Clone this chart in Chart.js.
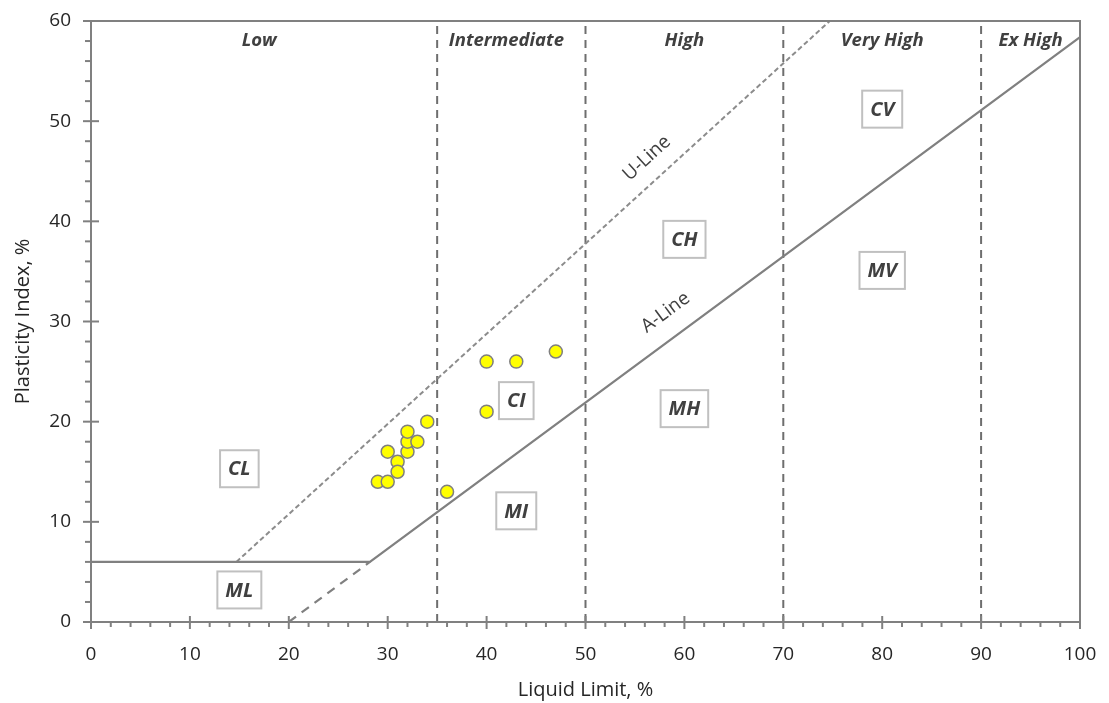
<!DOCTYPE html>
<html>
<head>
<meta charset="utf-8">
<script src="https://cdn.jsdelivr.net/npm/chart.js@4"></script>
<style>
  html, body { margin: 0; padding: 0; background: #fff; }
  #wrap { width: 1109px; height: 703px; }
</style>
</head>
<body>
<div id="wrap"><canvas id="plasticity-chart" width="1109" height="703"></canvas></div>
<script>
// sample results (liquid limit / plasticity index)
const sampleLL = [29, 30, 30, 31, 31, 32, 32, 32, 33, 34, 36, 40, 40, 43, 47];
const samplePI = [14, 14, 17, 16, 15, 17, 18, 19, 18, 20, 13, 26, 21, 26, 27];

// chart boundary lines
const aLineLL = [0, 28.2, 100];
const aLinePI = [6, 6, 58.4];
const aExtLL = [20, 28.2];
const aExtPI = [0, 6];
const uLineLL = [14.7, 74.7];
const uLinePI = [6, 60];

// plasticity zones
const zoneBounds = [35, 50, 70, 90];
const zoneNames = ['Low', 'Intermediate', 'High', 'Very High', 'Ex High'];
const zoneCenters = [17, 42, 60, 80, 95];

// soil classes
const soilCodes = ['CL', 'ML', 'MI', 'CI', 'MH', 'CH', 'MV', 'CV'];
const soilLL = [15, 15, 43, 43, 60, 60, 80, 80];
const soilPI = [15.3, 3.2, 11.1, 22.1, 21.3, 38.2, 35.1, 51.2];

const xTicks = [0, 10, 20, 30, 40, 50, 60, 70, 80, 90, 100];
const yTicks = [0, 10, 20, 30, 40, 50, 60];

const FONT = '"Open Sans", "DejaVu Sans", sans-serif';

function pts(xs, ys) {
    return xs.map((x, i) => ({ x: x, y: ys[i] }));
}

const overlay = {
    id: 'overlay',
    afterDraw(chart) {
        const ctx = chart.ctx;
        const xs = chart.scales.x;
        const ys = chart.scales.y;
        const area = chart.chartArea;
        ctx.save();

        // frame
        ctx.strokeStyle = '#808080';
        ctx.lineWidth = 2;
        ctx.strokeRect(area.left, area.top, area.right - area.left, area.bottom - area.top);

        // ticks on x axis
        for (let v = 0; v <= 100; v += 2) {
            const px = xs.getPixelForValue(v);
            ctx.beginPath();
            if (v % 10 === 0) {
                ctx.moveTo(px, area.bottom - 6);
                ctx.lineTo(px, area.bottom + 7);
            } else {
                ctx.moveTo(px, area.bottom);
                ctx.lineTo(px, area.bottom + 5);
            }
            ctx.stroke();
        }
        // ticks on y axis
        for (let v = 0; v <= 60; v += 2) {
            const py = ys.getPixelForValue(v);
            ctx.beginPath();
            if (v % 10 === 0) {
                ctx.moveTo(area.left - 8, py);
                ctx.lineTo(area.left + 8, py);
            } else {
                ctx.moveTo(area.left - 6, py);
                ctx.lineTo(area.left, py);
            }
            ctx.stroke();
        }

        // zone names
        ctx.fillStyle = '#404040';
        ctx.font = 'italic bold 18.5px ' + FONT;
        ctx.textAlign = 'center';
        ctx.textBaseline = 'middle';
        zoneNames.forEach((name, i) => {
            ctx.fillText(name, xs.getPixelForValue(zoneCenters[i]), ys.getPixelForValue(58));
        });

        // soil class boxes
        ctx.font = 'italic bold 20px ' + FONT;
        soilCodes.forEach((code, i) => {
            const cx = xs.getPixelForValue(soilLL[i]);
            const cy = ys.getPixelForValue(soilPI[i]);
            const w = ctx.measureText(code).width + 16;
            const h = 37;
            ctx.fillStyle = '#fff';
            ctx.fillRect(cx - w / 2, cy - h / 2, w, h);
            ctx.strokeStyle = '#c0c0c0';
            ctx.lineWidth = 2;
            ctx.strokeRect(cx - w / 2, cy - h / 2, w, h);
            ctx.fillStyle = '#404040';
            ctx.fillText(code, cx, cy + 1);
        });

        // line names along the slopes
        ctx.font = '19px ' + FONT;
        const slopeAngle = (lx, ly) => {
            const dx = xs.getPixelForValue(lx[lx.length - 1]) - xs.getPixelForValue(lx[lx.length - 2]);
            const dy = ys.getPixelForValue(ly[ly.length - 1]) - ys.getPixelForValue(ly[ly.length - 2]);
            return Math.atan2(dy, dx);
        };
        const lineLabels = [
            { text: 'U-Line', x: 56.2, y: 46.3, ang: slopeAngle(uLineLL, uLinePI) },
            { text: 'A-Line', x: 58.1, y: 30.9, ang: slopeAngle(aLineLL, aLinePI) }
        ];
        lineLabels.forEach(l => {
            ctx.save();
            ctx.translate(xs.getPixelForValue(l.x), ys.getPixelForValue(l.y));
            ctx.rotate(l.ang);
            ctx.fillStyle = '#404040';
            ctx.fillText(l.text, 0, 0);
            ctx.restore();
        });

        // axis titles
        ctx.fillStyle = '#262626';
        ctx.font = '20px ' + FONT;
        ctx.fillText('Liquid Limit, %', (area.left + area.right) / 2, 690);
        ctx.save();
        ctx.translate(23, (area.top + area.bottom) / 2);
        ctx.rotate(-Math.PI / 2);
        ctx.fillText('Plasticity Index, %', 0, 0);
        ctx.restore();

        ctx.restore();
    }
};

const zoneSets = zoneBounds.map(b => ({
    data: [{ x: b, y: 0 }, { x: b, y: 60 }],
    borderColor: '#6e6e6e',
    borderWidth: 2,
    borderDash: [8, 6],
    showLine: true,
    pointRadius: 0
}));

const ctx = document.getElementById('plasticity-chart').getContext('2d');
new Chart(ctx, {
    type: 'scatter',
    data: {
        datasets: [
            {
                label: 'Samples',
                data: pts(sampleLL, samplePI),
                backgroundColor: '#ffff00',
                borderColor: '#7f7f7f',
                borderWidth: 1.5,
                pointRadius: 6.5
            },
            {
                label: 'A-Line',
                data: pts(aLineLL, aLinePI),
                borderColor: '#808080',
                borderWidth: 2.2,
                showLine: true,
                pointRadius: 0
            },
            {
                label: 'A-Line ext',
                data: pts(aExtLL, aExtPI),
                borderColor: '#808080',
                borderWidth: 2.2,
                borderDash: [9, 7],
                showLine: true,
                pointRadius: 0
            },
            {
                label: 'U-Line',
                data: pts(uLineLL, uLinePI),
                borderColor: '#8c8c8c',
                borderWidth: 2,
                borderDash: [5, 3],
                showLine: true,
                pointRadius: 0
            },
            ...zoneSets
        ]
    },
    options: {
        responsive: false,
        animation: false,
        layout: { padding: { top: 21, right: 29, left: 0, bottom: 0 } },
        plugins: {
            legend: { display: false },
            tooltip: { enabled: false }
        },
        scales: {
            x: {
                type: 'linear',
                min: 0,
                max: 100,
                afterFit: s => {
                    s.height = 81;
                    s.paddingLeft = 0;
                    s.paddingRight = 0;
                },
                afterBuildTicks: s => { s.ticks = xTicks.map(v => ({ value: v })); },
                grid: { display: false, drawTicks: false },
                border: { display: false },
                ticks: {
                    padding: 21,
                    color: '#262626',
                    font: { family: FONT, size: 19 },
                    maxRotation: 0
                }
            },
            y: {
                type: 'linear',
                min: 0,
                max: 60,
                afterFit: s => {
                    s.width = 91;
                    s.paddingTop = 0;
                    s.paddingBottom = 0;
                },
                afterBuildTicks: s => { s.ticks = yTicks.map(v => ({ value: v })); },
                grid: { display: false, drawTicks: false },
                border: { display: false },
                ticks: {
                    padding: 20,
                    color: '#262626',
                    font: { family: FONT, size: 19 }
                }
            }
        }
    },
    plugins: [overlay]
});
</script>
</body>
</html>
